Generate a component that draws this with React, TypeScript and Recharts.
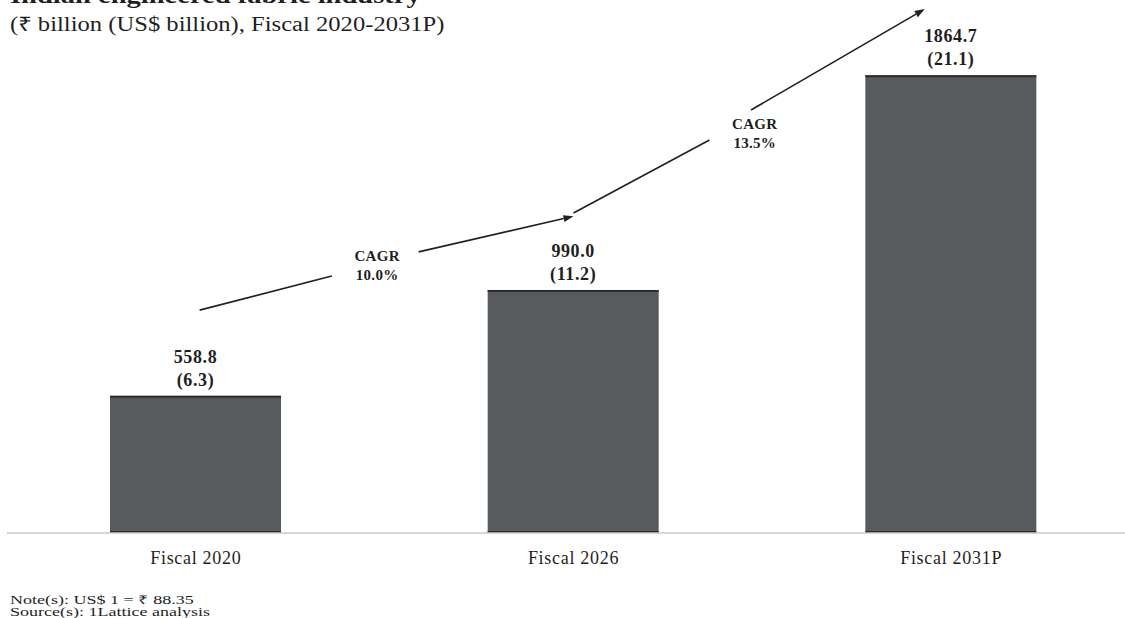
import React from "react";
import { BarChart, Bar, XAxis, YAxis, LabelList, ReferenceLine, ReferenceDot } from "recharts";

const categories = ["Fiscal 2020", "Fiscal 2026", "Fiscal 2031P"];
const inrBillion = [558.8, 990.0, 1864.7];
const usdBillion = [6.3, 11.2, 21.1];
const cagrLabels = ["10.0%", "13.5%"];

// each category sits at the middle of its unit slot on a numeric axis, so the arrows can sit between them
const data = categories.map((name, i) => ({ name, pos: i + 0.5, inr: inrBillion[i], usd: usdBillion[i] }));

// growth arrows, in (category position, ₹ bn) space; head marks the segment ending in an arrowhead
const arrowSegments = [
  { from: { x: 0.51, y: 908 }, to: { x: 0.86, y: 1047 }, head: false },
  { from: { x: 1.09, y: 1145 }, to: { x: 1.5, y: 1290 }, head: true },
  { from: { x: 1.5, y: 1303 }, to: { x: 1.86, y: 1601 }, head: false },
  { from: { x: 1.97, y: 1723 }, to: { x: 2.43, y: 2134 }, head: true },
];
const cagrSpots = [
  { x: 0.98, y: 1092 },
  { x: 1.98, y: 1630 },
];

const SERIF = "'Liberation Serif', 'Times New Roman', serif";
const INK = "#1f1f1f";

function BarShape(p: any) {
  const { x, y, width, height } = p;
  return (
    <g>
      <rect x={x} y={y} width={width} height={height} fill="#585b5e" />
      <line x1={x} x2={x + width} y1={y + 1} y2={y + 1} stroke="#2b2d30" strokeWidth={2} />
      <line x1={x} x2={x + width} y1={y + height - 1} y2={y + height - 1} stroke="#2b2d30" strokeWidth={2} />
    </g>
  );
}

function ValueLabel(p: any) {
  const { x, y, width, index } = p;
  const cx = x + width / 2;
  return (
    <g fontFamily={SERIF} fontWeight="bold" fontSize={18} letterSpacing={0.6} fill={INK} textAnchor="middle">
      <text x={cx} y={y - 39} dominantBaseline="central">{inrBillion[index].toFixed(1)}</text>
      <text x={cx} y={y - 16} dominantBaseline="central">({usdBillion[index].toFixed(1)})</text>
    </g>
  );
}

function Arrow(p: any, head: boolean) {
  const { x1, y1, x2, y2 } = p;
  const a = Math.atan2(y2 - y1, x2 - x1);
  const L = 10, W = 3.5;
  const bx = x2 - L * Math.cos(a), by = y2 - L * Math.sin(a);
  const pts = `${x2},${y2} ${bx + W * Math.sin(a)},${by - W * Math.cos(a)} ${bx - W * Math.sin(a)},${by + W * Math.cos(a)}`;
  return (
    <g>
      <line x1={x1} y1={y1} x2={head ? bx : x2} y2={head ? by : y2} stroke="#222" strokeWidth={1.7} />
      {head && <polygon points={pts} fill="#222" />}
    </g>
  );
}

function CagrText(p: any, label: string) {
  const { cx, cy } = p;
  return (
    <g fontFamily={SERIF} fontWeight="bold" fontSize={15} letterSpacing={0.3} fill={INK} textAnchor="middle">
      <text x={cx} y={cy - 9} dominantBaseline="central">CAGR</text>
      <text x={cx} y={cy + 10} dominantBaseline="central">{label}</text>
    </g>
  );
}

export default function App() {
  return (
    <div style={{ position: "relative", width: 1125, height: 618, overflow: "hidden", background: "#fff", fontFamily: SERIF }}>
      <style>{"body{margin:0}"}</style>
      <div style={{ position: "absolute", left: 10, top: -17, fontSize: 23, fontWeight: "bold", color: INK, whiteSpace: "nowrap", transform: "scaleX(1.24)", transformOrigin: "left" }}>
        Indian engineered fabric industry
      </div>
      <div style={{ position: "absolute", left: 10, top: 10, fontSize: 20, color: INK, whiteSpace: "nowrap", transform: "scaleX(1.23)", transformOrigin: "left" }}>
        (₹ billion (US$ billion), Fiscal 2020-2031P)
      </div>
      <BarChart
        width={1140}
        height={618}
        data={data}
        margin={{ top: 42, right: 0, left: 7, bottom: 0 }}
        style={{ position: "absolute", left: 0, top: 0 }}
      >
        <XAxis
          dataKey="pos"
          type="number"
          domain={[0, 3]}
          allowDataOverflow
          ticks={data.map((d) => d.pos)}
          tickFormatter={(v: number) => categories[Math.floor(v)]}
          height={85}
          axisLine={{ stroke: "#cacaca", strokeWidth: 1.5 }}
          tickLine={false}
          tickMargin={12}
          tick={{ fill: INK, fontSize: 18, fontFamily: SERIF, letterSpacing: 0.7 }}
        />
        <YAxis domain={[0, 2000]} allowDataOverflow hide />
        <Bar dataKey="inr" barSize={171} shape={BarShape} isAnimationActive={false}>
          <LabelList dataKey="inr" content={ValueLabel} />
        </Bar>
        {arrowSegments.map((s, i) => (
          <ReferenceLine
            key={i}
            segment={[s.from, s.to]}
            ifOverflow="visible"
            shape={(p: any) => Arrow(p, s.head)}
          />
        ))}
        {cagrSpots.map((c, i) => (
          <ReferenceDot
            key={i}
            x={c.x}
            y={c.y}
            ifOverflow="visible"
            shape={(p: any) => CagrText(p, cagrLabels[i])}
          />
        ))}
      </BarChart>
      <div style={{ position: "absolute", left: 10, top: 594, fontSize: 12, lineHeight: "12px", color: INK, whiteSpace: "nowrap", transform: "scaleX(1.5)", transformOrigin: "left" }}>
        <div>Note(s): US$ 1 = ₹ 88.35</div>
        <div>Source(s): 1Lattice analysis</div>
      </div>
    </div>
  );
}
